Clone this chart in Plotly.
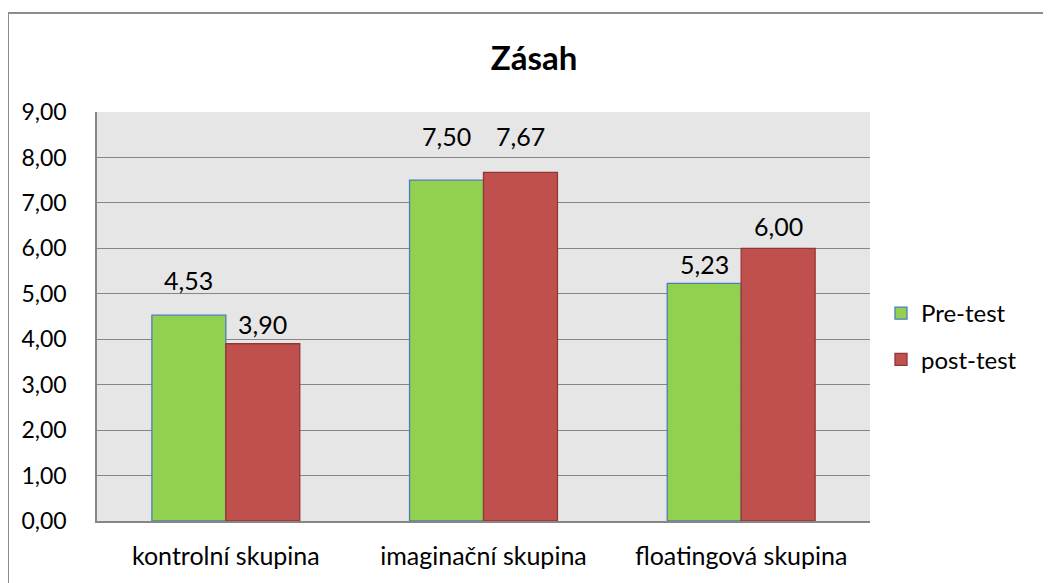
import plotly.graph_objects as go

categories = ["kontrolní skupina", "imaginační skupina", "floatingová skupina"]
pre_test = [4.53, 7.50, 5.23]
post_test = [3.90, 7.67, 6.00]
series_names = ["Pre-test", "post-test"]
y_ticks = [0, 1, 2, 3, 4, 5, 6, 7, 8, 9]

# label placement (pixels above bar top, as positioned in the original)
pre_label_lift = [35, 44, 19]
post_label_lift = [20, 36, 22]

FONT = "Lato, 'Open Sans', sans-serif"
OFF = 8  # page body margin

fig = go.Figure()
fig.add_trace(go.Bar(
    x=categories, y=pre_test, name=series_names[0], legendgroup="a",
    marker=dict(color="#92d050", line=dict(color="#4a7ebb", width=1.3)),
))
fig.add_trace(go.Bar(
    x=categories, y=post_test, name=series_names[1], legendgroup="b",
    marker=dict(color="#c0504d", line=dict(color="#943634", width=1.3)),
))

W, H = 1051 - OFF, 583 - OFF
ml, mt = 97 - OFF, 112 - OFF
right, bottom = 870 - OFF, 521 - OFF
mr, mb = W - right, H - bottom
pw, ph = W - ml - mr, H - mt - mb

def px_x(x):
    return (x - OFF - ml) / pw

def px_y(y):
    return (bottom - (y - OFF)) / ph

bargap = 0.426
bar_px = pw / len(categories) * (1 - bargap) / 2

annotations = []
for vals, lifts, sgn in ((pre_test, pre_label_lift, -1), (post_test, post_label_lift, 1)):
    for c, v, lift in zip(categories, vals, lifts):
        annotations.append(dict(
            x=c, y=v, xref="x", yref="y", text=f"{v:.2f}".replace(".", ","),
            showarrow=False, xanchor="center", yanchor="middle",
            xshift=sgn * bar_px / 2, yshift=lift,
            font=dict(size=25, family=FONT, color="#000000"),
        ))

fig.update_layout(
    width=W, height=H,
    margin=dict(l=ml, r=mr, t=mt, b=mb, pad=0),
    paper_bgcolor="white", plot_bgcolor="#e6e6e6",
    separators=", ",
    barmode="group", bargap=bargap, bargroupgap=0,
    font=dict(family=FONT, size=24, color="#000000"),
    title=dict(text="<b>Zásah</b>", x=(534 - OFF) / W, xanchor="center",
               y=1 - (58 - OFF) / H, yanchor="middle",
               font=dict(size=33, family=FONT, color="#000000")),
    legend=dict(x=px_x(881), y=px_y(291), xanchor="left", yanchor="top",
                font=dict(size=24, family=FONT), itemwidth=30,
                tracegroupgap=12, bgcolor="rgba(0,0,0,0)"),
    showlegend=True,
    annotations=annotations,
    shapes=[
        dict(type="line", xref="paper", yref="paper",
             x0=px_x(8), x1=px_x(8), y0=px_y(13), y1=px_y(600),
             line=dict(color="#8c8c8c", width=2)),
        dict(type="line", xref="paper", yref="paper",
             x0=px_x(7), x1=px_x(1070), y0=px_y(13), y1=px_y(13),
             line=dict(color="#8c8c8c", width=2)),
    ],
)
fig.update_xaxes(showline=True, linecolor="#868686", linewidth=2,
                 ticks="", tickfont=dict(size=25, family=FONT),
                 ticklabelstandoff=12, showgrid=False)
fig.update_yaxes(range=[0, 9], tickvals=y_ticks, tickformat=".2f",
                 showgrid=True, gridcolor="#868686", gridwidth=1,
                 showline=True, linecolor="#868686", linewidth=1.5,
                 ticks="", ticklabelstandoff=24,
                 tickfont=dict(size=23, family=FONT), zeroline=False)

fig.write_html("out.html")
